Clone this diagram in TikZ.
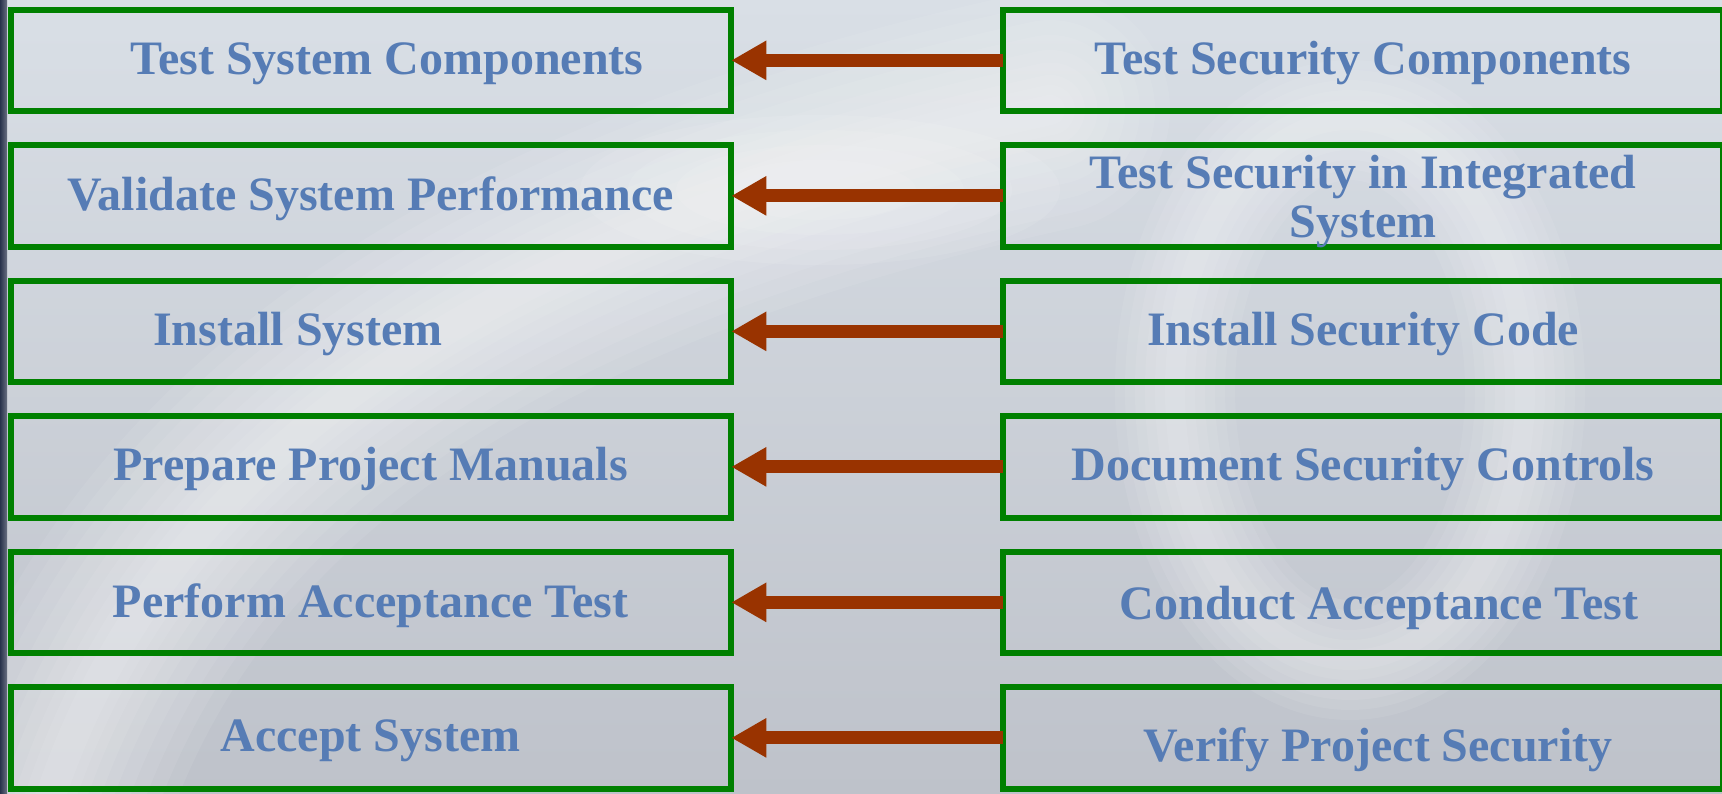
\documentclass[tikz,border=0pt]{standalone}
\usepackage{fontspec}
\setmainfont{Liberation Serif}
\usetikzlibrary{arrows.meta}
\definecolor{boxgreen}{RGB}{0,128,0}
\definecolor{arrred}{RGB}{153,51,0}
\definecolor{txtblue}{RGB}{86,124,181}
\definecolor{bgtop}{RGB}{217,223,230}
\definecolor{bgbot}{RGB}{190,194,202}
\definecolor{barnavy}{RGB}{40,50,75}
\tikzset{
  stepbox/.style={draw=boxgreen, line width=6pt, rectangle, outer sep=0pt, inner sep=0pt,
    minimum width=720pt, minimum height=101.3pt},
  lbl/.style={text=txtblue, font=\fontsize{48}{48.7}\selectfont\bfseries, inner sep=0pt, anchor=base},
  arr/.style={draw=arrred, line width=13pt, -{Triangle[length=35pt,width=37pt]}},
  glow/.style={draw=white, line cap=round}
}
\begin{document}
\begin{tikzpicture}[x=1pt,y=-1pt]
\useasboundingbox (0,0) rectangle (1722,793);
\clip (0,0) rectangle (1722,793);
% background
\shade[top color=bgtop, bottom color=bgbot] (0,0) rectangle (1722,793);
% soft diagonal band
\foreach \w in {240,210,180,150,120,95,70,50,30}{
  \draw[glow, line width=\w pt, opacity=0.07] (40,830) .. controls (150,450) and (500,230) .. (1050,110);
}
% bright spot of the band between the columns
\foreach \r in {150,120,90,60}{
  \fill[white, opacity=0.09] (820,190) ellipse [x radius=\r*1.6, y radius=\r*0.5];
}
% ring on the right
\foreach \w in {120,100,80,60,40,20}{
  \draw[glow, line width=\w pt, opacity=0.075] (1350,390) ellipse [x radius=175, y radius=270];
}
% left dark bar
\shade[left color=barnavy, right color=barnavy!70!white] (0,0) rectangle (7,793);
% boxes
\foreach \i in {1,...,6}{
  \pgfmathsetmacro{\yy}{60.35+135.5*(\i-1)}
  \node[stepbox, minimum width=720.8pt] (L\i) at (370.9,\yy) {};
  \node[stepbox] (R\i) at (1363,\yy) {};
}
% texts
\node[lbl] (tl1) at (387,74) {Test System Components};
\node[lbl] (tr1) at (1363,74) {Test Security Components};
\node[lbl] (tl2) at (370.6,210) {Validate System Performance};
\node[lbl, align=center] (tr2) at (1363,237) {Test Security in Integrated\\System};
\node[lbl] (tl3) at (298,345) {Install System};
\node[lbl] (tr3) at (1363,345) {Install Security Code};
\node[lbl] (tl4) at (370.6,480.6) {Prepare Project Manuals};
\node[lbl] (tr4) at (1363,480.6) {Document Security Controls};
\node[lbl] (tl5) at (370.6,617) {Perform Acceptance Test};
\node[lbl] (tr5) at (1379,619) {Conduct Acceptance Test};
\node[lbl] (tl6) at (370.6,751.7) {Accept System};
\node[lbl] (tr6) at (1378,761.7) {Verify Project Security};
% arrows
\foreach \i in {1,...,6}{
  \draw[arr] (R\i.west) -- (L\i.east);
}
\end{tikzpicture}
\end{document}
